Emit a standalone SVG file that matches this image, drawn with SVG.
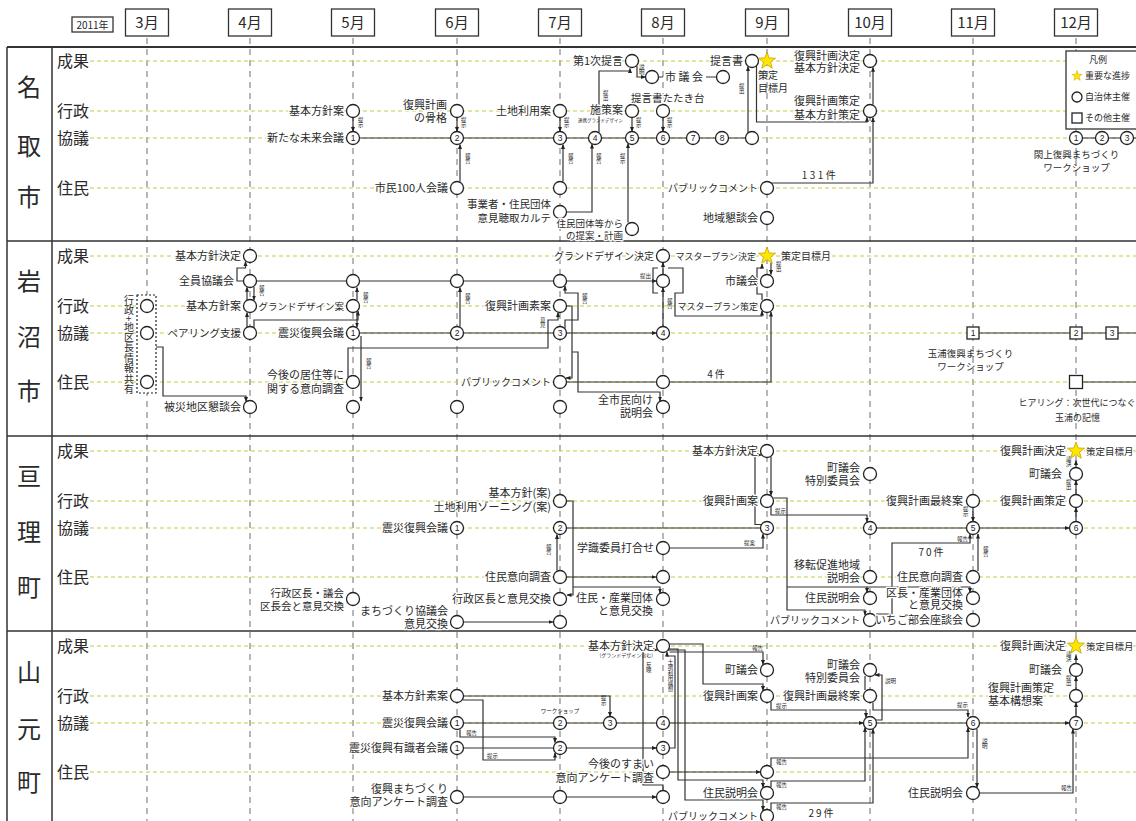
<svg xmlns="http://www.w3.org/2000/svg" width="1136" height="821" viewBox="0 0 1136 821">
<style>
text{font-family:"Noto Sans CJK JP","Noto Sans",sans-serif;fill:#2a2a2a}
.t{font-size:11px;stroke:#fff;stroke-width:2.5px;stroke-linejoin:round;paint-order:stroke}
.r{text-anchor:end}
.m{text-anchor:middle}
.f10{font-size:10px}
.f9{font-size:9px}
.pc{font-size:10px}
.f105{font-size:10.5px}
.f95{font-size:9.5px}
.f90{font-size:9px}
.s{font-size:5.5px;fill:#222}
.v{writing-mode:vertical-rl}
.n{font-size:8.5px;text-anchor:middle;font-family:"Liberation Sans",sans-serif;fill:#222}
.c{fill:#fff;stroke:#222;stroke-width:1.3}
.w{fill:none;stroke:#333;stroke-width:1.2}
.a{marker-end:url(#ah)}
.vd{stroke:#888;stroke-width:1.2;stroke-dasharray:6 5;fill:none}
.hd{stroke:#bfd040;stroke-width:1.2;stroke-dasharray:4 3;fill:none}
.fr{stroke:#333;fill:none}
.mb{fill:#fff;stroke:#333;stroke-width:1.3}
.mt{font-size:15px;text-anchor:middle}
.rl{font-size:16px}
.cn{font-size:24px;text-anchor:middle}
.st{fill:#ffe600;stroke:#c8a000;stroke-width:0.8}
</style>
<defs>
<marker id="ah" viewBox="0 0 10 10" refX="9" refY="5" markerWidth="5" markerHeight="5" markerUnits="userSpaceOnUse" orient="auto"><path d="M0,1L10,5L0,9z" fill="#222"/></marker>
<path id="star" d="M0,-9L2.18,-2.99L8.56,-2.78L3.52,1.14L5.29,7.28L0,3.7L-5.29,7.28L-3.52,1.14L-8.56,-2.78L-2.18,-2.99Z"/>
</defs>
<rect width="1136" height="821" fill="#fff"/>

<g id="header">
<rect class="mb" x="72" y="17" width="41" height="15"/><text x="92.5" y="28.5" class="m f10">2011年</text>
<rect class="mb" x="125.5" y="9" width="43" height="27"/><text class="mt" x="147" y="28">3月</text>
<rect class="mb" x="228.5" y="9" width="43" height="27"/><text class="mt" x="250" y="28">4月</text>
<rect class="mb" x="331.5" y="9" width="43" height="27"/><text class="mt" x="353" y="28">5月</text>
<rect class="mb" x="435.5" y="9" width="43" height="27"/><text class="mt" x="457" y="28">6月</text>
<rect class="mb" x="538.5" y="9" width="43" height="27"/><text class="mt" x="560" y="28">7月</text>
<rect class="mb" x="641.5" y="9" width="43" height="27"/><text class="mt" x="663" y="28">8月</text>
<rect class="mb" x="745.5" y="9" width="43" height="27"/><text class="mt" x="767" y="28">9月</text>
<rect class="mb" x="848.5" y="9" width="43" height="27"/><text class="mt" x="870" y="28">10月</text>
<rect class="mb" x="951.5" y="9" width="43" height="27"/><text class="mt" x="973" y="28">11月</text>
<rect class="mb" x="1054.5" y="9" width="43" height="27"/><text class="mt" x="1076" y="28">12月</text>
</g>

<g id="grid">
<path class="vd" d="M147,38V821M250,38V821M353,38V821M457,38V821M560,38V821M663,38V821M767,38V821M870,38V821M973,38V821M1076,38V821"/>
<path class="hd" d="M90,61H1136M90,111H1136M90,138H1136M90,188H1136M90,256H1136M90,306H1136M90,333H1136M90,382H1136M90,451H1136M90,501H1136M90,528H1136M90,577H1136M90,646H1136M90,696H1136M90,723H1136M90,772H1136"/>
<path class="fr" stroke-width="2" d="M7,47H1136"/>
<path class="fr" stroke-width="1.5" d="M7,241H1136M7,436H1136M7,631H1136M7,47V821M52,47V821"/>
</g>

<g id="labels">
<text class="cn" x="29" y="96">名</text><text class="cn" x="29" y="155">取</text><text class="cn" x="29" y="206">市</text>
<text class="cn" x="29" y="290">岩</text><text class="cn" x="29" y="346">沼</text><text class="cn" x="29" y="400">市</text>
<text class="cn" x="29" y="485">亘</text><text class="cn" x="29" y="541">理</text><text class="cn" x="29" y="596">町</text>
<text class="cn" x="29" y="681">山</text><text class="cn" x="29" y="738">元</text><text class="cn" x="29" y="791">町</text>
<text class="rl" x="57" y="67">成果</text><text class="rl" x="57" y="117">行政</text><text class="rl" x="57" y="144">協議</text><text class="rl" x="57" y="194">住民</text>
<text class="rl" x="57" y="262">成果</text><text class="rl" x="57" y="312">行政</text><text class="rl" x="57" y="339">協議</text><text class="rl" x="57" y="388">住民</text>
<text class="rl" x="57" y="457">成果</text><text class="rl" x="57" y="507">行政</text><text class="rl" x="57" y="534">協議</text><text class="rl" x="57" y="583">住民</text>
<text class="rl" x="57" y="652">成果</text><text class="rl" x="57" y="702">行政</text><text class="rl" x="57" y="729">協議</text><text class="rl" x="57" y="778">住民</text>
</g>

<g id="connectors">
<!-- 名取 -->
<path class="w a" d="M353,117.5V131.5"/><text class="s v" x="360.75" y="117">提示</text>
<path class="w" d="M359.5,138H745.5"/>
<path class="w a" d="M457,117.5V131.5"/><text class="s v" x="463.75" y="117">提示</text>
<path class="w a" d="M460,181.5V144.5"/><text class="s v" x="467.75" y="153">報告</text>
<path class="w a" d="M560,117.5V131.5"/><text class="s v" x="566.75" y="117">提示</text>
<path class="w a" d="M563,181.5V144.5"/><text class="s v" x="570.75" y="153">報告</text>
<path class="w a" d="M566.5,212H592V144"/><text class="s v" x="598.75" y="153">報告</text>
<path class="w a" d="M599,132.5V71H630V68.5"/><text class="s v" x="605.75" y="90">提出</text>
<path class="w a" d="M637,66V77H645.5"/><text class="s v" x="641.75" y="64">説明</text>
<path class="w" d="M658.5,77H663M706,77H716.5"/>
<path class="w a" d="M632,117.5V131.5"/><text class="s v" x="638.75" y="117">提示</text>
<path class="w a" d="M628,222.5V143.5"/><text class="s v" x="622.75" y="153">提示</text>
<path class="w a" d="M663,117.5V131.5"/><text class="s v" x="669.75" y="117">提示</text>
<path class="w a" d="M748,133V66.5"/><text class="s v" x="741.75" y="83">提出</text>
<path class="w a" d="M756.5,66V122H867V117.3"/>
<path class="w a" d="M771,183H873V117.5"/>
<path class="w a" d="M873,104.5V67.3"/>
<text class="f10 m" x="820" y="179" letter-spacing="2.5">131件</text>
<path class="w" d="M1082,138H1136"/>
<!-- 岩沼 -->
<path class="w a" d="M156,347H163V396H246V401.5"/>
<path class="w a" d="M243.5,281H237V268H245.5V261.5"/>
<path class="w a" d="M247,300V287.3"/>
<path class="w a" d="M254,287V300"/><text class="s v" x="261.75" y="285">報告</text>
<path class="w a" d="M247,327.5V312.5"/>
<path class="w a" d="M254,328V320H358V311"/>
<path class="w a" d="M256.5,281H656.5"/><text class="s" x="640" y="278">提出</text>
<path class="w a" d="M357,300V287.5"/><text class="s v" x="365.75" y="292">報告</text>
<path class="w a" d="M357,312V327"/>
<path class="w a" d="M361,336V401"/><text class="s v" x="368.75" y="358">報告</text>
<path class="w a" d="M348,377.5V348H548V320H558V312.5"/><text class="s v" x="542.75" y="317">意見</text>
<path class="w a" d="M359.5,333H656.5"/>
<path class="w a" d="M460,326.5V287.5"/><text class="s v" x="467.75" y="293">報告</text>
<path class="w a" d="M565,328.5V320H578V293H565V286"/><text class="s v" x="584.75" y="293">報告</text>
<path class="w a" d="M566.5,306H572V378H566"/>
<path class="w a" d="M572,352H578V392H660V401"/>
<path class="w a" d="M566.5,382H771V312"/><text class="f10 m" x="717" y="378" letter-spacing="2">4件</text>
<path class="w a" d="M663,326.5V287.5"/><text class="s v" x="669.75" y="298">報告</text>
<path class="w a" d="M663,274.5V262.5"/>
<path class="w" d="M658,268H653V293H658"/>
<path class="w a" d="M668,268H683V293H675V316H762V311"/>
<path class="w a" d="M762,300V294H757V268H762V264"/>
<path class="w a" d="M771,263V274.5"/><text class="s v" x="778.75" y="261">提出</text>
<path class="w" d="M979.5,333H1136"/>
<path class="w" d="M1082.5,382H1136"/>
<!-- 亘理 -->
<path class="w a" d="M463.5,622H553"/>
<path class="w a" d="M557,570.5V534.5"/><text class="s v" x="548.75" y="544">報告</text>
<path class="w a" d="M566.5,501H573V595H567"/>
<path class="w a" d="M573,587H660V593"/>
<path class="w" d="M566.5,528H760.5"/>
<path class="w a" d="M566.5,577H656"/>
<path class="w a" d="M669.5,548H763V534"/><text class="s" x="744" y="545">提案</text>
<path class="w a" d="M762,524.5H755V455H761.5"/>
<path class="w a" d="M771,456.5V495.5"/>
<path class="w a" d="M771,506V515H867V522"/><text class="s" x="775" y="513">提示</text>
<path class="w a" d="M773.5,498H787V610H865V615"/>
<path class="w a" d="M787,587H970V592.5"/>
<path class="w a" d="M867,587V592.5"/>
<path class="w a" d="M876.5,528H1069.5"/>
<path class="w a" d="M876,614H892V543H970V534"/><text class="s" x="957" y="541">報告</text>
<text class="f10 m" x="932" y="556" letter-spacing="2">70件</text>
<path class="w a" d="M973,507.5V521.5"/><text class="s v" x="965.75" y="506">提示</text>
<path class="w a" d="M978,571V534"/><text class="s v" x="985.75" y="546">報告</text>
<path class="w a" d="M1076,521.5V507.5"/>
<path class="w a" d="M1076,494.5V480.5"/><text class="s v" x="1068.75" y="479">提出</text>
<path class="w a" d="M1076,467.5V460.5"/><text class="s v" x="1068.75" y="456">議決</text>
<!-- 山元 -->
<path class="w a" d="M463.5,696H610V716.5"/><text class="s v" x="603.75" y="695">提示</text>
<path class="w a" d="M463,700H483V760H555V753"/><text class="s" x="487" y="758">提示</text>
<path class="w a" d="M460,729.5V737H555V742.5"/><text class="s" x="466" y="735">報告</text>
<path class="w a" d="M463.5,723H863.5"/>
<path class="w a" d="M876.5,723H1069.5"/>
<path class="w a" d="M463.5,748H656.5"/>
<path class="w a" d="M463.5,797H656.5"/>
<path class="w a" d="M663,790.5V785H643V650H657.5"/><text class="s v" x="648.75" y="662">反映</text>
<path class="w a" d="M669.5,748H675V656H667V652"/>
<text class="s v" x="670.5" y="659">土地利用構想</text>
<path class="w a" d="M669.5,652H763V664.5"/><text class="s" x="752" y="650">報告</text>
<path class="w a" d="M669,644H703V684H763V690.5"/>
<path class="w a" d="M668.5,649H678V780H763V787.5"/>
<path class="w a" d="M668,650H685V800H763V810.5"/>
<path class="w a" d="M669.5,772H760.5"/>
<path class="w a" d="M771,702V710H866V717.5"/><text class="s" x="776" y="708">提示</text>
<path class="w a" d="M771,766V758H968V727.5"/><text class="s" x="776" y="764">報告</text>
<path class="w a" d="M771,787V781H865V727.5"/><text class="s" x="776" y="787">報告</text>
<path class="w a" d="M771,810V803H873V729"/><text class="s" x="776" y="809">報告</text>
<text class="f10 m" x="822" y="817" letter-spacing="2">29件</text>
<path class="w" d="M865,676V690"/>
<path class="w a" d="M876,720H882V675H875"/><text class="s" x="885" y="683">説明</text>
<path class="w a" d="M873,702.5V710H968V717"/><text class="s" x="957" y="707">提示</text>
<path class="w a" d="M977,729V787.5"/><text class="s v" x="984.75" y="738">説明</text>
<path class="w a" d="M979.5,793H1073V729"/><text class="s" x="1061" y="790">報告</text>
<path class="w a" d="M1076,716.5V702.5"/>
<path class="w a" d="M1076,689.5V676.5"/><text class="s v" x="1068.75" y="675">提出</text>
<path class="w a" d="M1076,663.5V655.5"/><text class="s v" x="1068.75" y="651">議決</text>
</g>

<g id="natori-nodes">
<g id="na-kihonan"><circle class="c" cx="353" cy="111" r="6.5"/><text class="t r" x="344" y="115">基本方針案</text></g>
<g id="na-m1"><circle class="c" cx="353" cy="138" r="6.5"/><text class="n" x="353" y="141">1</text><text class="t r" x="344" y="142">新たな未来会議</text></g>
<g id="na-kokkaku"><circle class="c" cx="457" cy="111" r="6.5"/><text class="t r" x="447" y="109">復興計画<tspan x="447" dy="13">の骨格</tspan></text></g>
<g id="na-m2"><circle class="c" cx="457" cy="138" r="6.5"/><text class="n" x="457" y="141">2</text></g>
<g id="na-shimin100"><circle class="c" cx="457" cy="188" r="6.5"/><text class="t r" x="448" y="192">市民100人会議</text></g>
<g id="na-tochi"><circle class="c" cx="560" cy="111" r="6.5"/><text class="t r" x="551" y="115">土地利用案</text></g>
<g id="na-m3"><circle class="c" cx="560" cy="138" r="6.5"/><text class="n" x="560" y="141">3</text></g>
<g id="na-jumin7"><circle class="c" cx="560" cy="188" r="6.5"/></g>
<g id="na-karte"><circle class="c" cx="560" cy="212" r="6.5"/><text class="t r f105" x="551" y="208">事業者・住民団体<tspan x="551" dy="14">意見聴取カルテ</tspan></text></g>
<g id="na-m4"><circle class="c" cx="595" cy="138" r="6.5"/><text class="n" x="595" y="141">4</text></g>
<g id="na-teigen1"><circle class="c" cx="632" cy="61" r="6.5"/><text class="t r" x="623" y="65">第1次提言</text></g>
<g id="na-shigikai"><circle class="c" cx="652" cy="77" r="6.5"/><text class="t" x="665" y="81">市 議 会</text><circle class="c" cx="723" cy="77" r="6.5"/></g>
<g id="na-shisaku"><circle class="c" cx="632" cy="111" r="6.5"/><text class="t r" x="623" y="114">施策案</text><text class="r" x="623" y="122" font-size="4.5">連携グランドデザイン</text></g>
<g id="na-m5"><circle class="c" cx="632" cy="138" r="6.5"/><text class="n" x="632" y="141">5</text></g>
<g id="na-jumindantai"><circle class="c" cx="632" cy="229" r="6.5"/><text class="t r f95" x="623" y="227">住民団体等から<tspan x="623" dy="12">の提案・計画</tspan></text></g>
<g id="na-tatakidai"><circle class="c" cx="663" cy="111" r="6.5"/><text class="t f105" x="631" y="102">提言書たたき台</text></g>
<g id="na-m6"><circle class="c" cx="663" cy="138" r="6.5"/><text class="n" x="663" y="141">6</text></g>
<g id="na-m7"><circle class="c" cx="693" cy="138" r="6.5"/><text class="n" x="693" y="141">7</text></g>
<g id="na-m8"><circle class="c" cx="722" cy="138" r="6.5"/><text class="n" x="722" y="141">8</text></g>
<g id="na-m9"><circle class="c" cx="752" cy="138" r="6.5"/></g>
<g id="na-teigensho"><circle class="c" cx="752" cy="61" r="6.5"/><text class="t r" x="743" y="65">提言書</text></g>
<g id="na-star"><use href="#star" class="st" x="767" y="61"/><text class="f10" x="758" y="79">策定<tspan x="758" dy="13">目標月</tspan></text></g>
<g id="na-kettei"><circle class="c" cx="870" cy="61" r="6.5"/><text class="t r" x="860" y="60">復興計画決定<tspan x="860" dy="12">基本方針決定</tspan></text></g>
<g id="na-sakutei"><circle class="c" cx="870" cy="111" r="6.5"/><text class="t r" x="860" y="105">復興計画策定<tspan x="860" dy="14">基本方針策定</tspan></text></g>
<g id="na-pubcom"><circle class="c" cx="767" cy="188" r="6.5"/><text class="t pc r" x="758" y="192">パブリックコメント</text></g>
<g id="na-kondan"><circle class="c" cx="767" cy="218" r="6.5"/><text class="t r" x="758" y="222">地域懇談会</text></g>
<g id="na-ws"><circle class="c" cx="1076" cy="138" r="6.5"/><text class="n" x="1076" y="141">1</text><circle class="c" cx="1102" cy="138" r="6.5"/><text class="n" x="1102" y="141">2</text><circle class="c" cx="1127" cy="138" r="6.5"/><text class="n" x="1127" y="141">3</text><text class="m f95" x="1076.5" y="158">閖上復興まちづくり<tspan x="1076.5" dy="13">ワークショップ</tspan></text></g>
</g>

<g id="iwanuma-nodes">
<g id="iw-share"><rect x="137" y="295" width="19" height="98" fill="#fff" stroke="#222" stroke-width="1.2" stroke-dasharray="2 2"/><circle class="c" cx="147" cy="306" r="6.5"/><circle class="c" cx="147" cy="333" r="6.5"/><circle class="c" cx="147" cy="382" r="6.5"/>
<text class="f10 v" x="129" y="295" letter-spacing="0.4">行政+地区長情報共有</text></g>
<g id="iw-kihonkettei"><circle class="c" cx="250" cy="256" r="6.5"/><text class="t r" x="241" y="260">基本方針決定</text></g>
<g id="iw-zenin"><circle class="c" cx="250" cy="281" r="6.5"/><text class="t r" x="234" y="285">全員協議会</text></g>
<g id="iw-kihonan"><circle class="c" cx="250" cy="306" r="6.5"/><text class="t r" x="241" y="310">基本方針案</text></g>
<g id="iw-pairing"><circle class="c" cx="250" cy="333" r="6.5"/><text class="t r f105" x="241" y="337">ペアリング支援</text></g>
<g id="iw-hisai"><circle class="c" cx="250" cy="407" r="6.5"/><text class="t r" x="241" y="411">被災地区懇談会</text></g>
<g id="iw-z5"><circle class="c" cx="353" cy="281" r="6.5"/></g>
<g id="iw-gd"><circle class="c" cx="353" cy="306" r="6.5"/><text class="t r f95" x="344" y="309.5">グランドデザイン案</text></g>
<g id="iw-s1"><circle class="c" cx="353" cy="333" r="6.5"/><text class="n" x="353" y="336">1</text><text class="t r" x="344" y="337">震災復興会議</text></g>
<g id="iw-ikou"><circle class="c" cx="353" cy="382" r="6.5"/><text class="t r" x="344" y="379">今後の居住等に<tspan x="344" dy="14">関する意向調査</tspan></text></g>
<g id="iw-h5"><circle class="c" cx="353" cy="407" r="6.5"/></g>
<g id="iw-z6"><circle class="c" cx="457" cy="281" r="6.5"/></g>
<g id="iw-s2"><circle class="c" cx="457" cy="333" r="6.5"/><text class="n" x="457" y="336">2</text></g>
<g id="iw-h6"><circle class="c" cx="457" cy="407" r="6.5"/></g>
<g id="iw-z7"><circle class="c" cx="560" cy="281" r="6.5"/></g>
<g id="iw-soan"><circle class="c" cx="560" cy="306" r="6.5"/><text class="t r" x="551" y="310">復興計画素案</text></g>
<g id="iw-s3"><circle class="c" cx="560" cy="333" r="6.5"/><text class="n" x="560" y="336">3</text></g>
<g id="iw-pub"><circle class="c" cx="560" cy="382" r="6.5"/><text class="t pc r" x="551" y="386">パブリックコメント</text></g>
<g id="iw-h7"><circle class="c" cx="560" cy="407" r="6.5"/></g>
<g id="iw-gdkettei"><circle class="c" cx="663" cy="256" r="6.5"/><text class="t r pc" x="654" y="259.5">グランドデザイン決定</text></g>
<g id="iw-z8"><circle class="c" cx="663" cy="281" r="6.5"/></g>
<g id="iw-s4"><circle class="c" cx="663" cy="333" r="6.5"/><text class="n" x="663" y="336">4</text></g>
<g id="iw-p8"><circle class="c" cx="663" cy="382" r="6.5"/></g>
<g id="iw-zenshimin"><circle class="c" cx="663" cy="407" r="6.5"/><text class="t r" x="653" y="404">全市民向け<tspan x="653" dy="13">説明会</tspan></text></g>
<g id="iw-star"><use href="#star" class="st" x="767" y="256"/><text class="t r f90" x="756" y="259.5">マスタープラン決定</text><text class="t pc" x="781" y="259.5">策定目標月</text></g>
<g id="iw-shigikai"><circle class="c" cx="767" cy="281" r="6.5"/><text class="t r" x="758" y="285">市議会</text></g>
<g id="iw-mp"><circle class="c" cx="767" cy="306" r="6.5"/><text class="t r f90" x="758" y="309.5">マスタープラン策定</text></g>
<g id="iw-tamaura"><rect class="c" x="967" y="327" width="12" height="12"/><text class="n" x="973" y="336">1</text><rect class="c" x="1070" y="327" width="12" height="12"/><text class="n" x="1076" y="336">2</text><rect class="c" x="1106" y="327" width="12" height="12"/><text class="n" x="1112" y="336">3</text><text class="m f95" x="970.5" y="357">玉浦復興まちづくり<tspan x="970.5" dy="13">ワークショップ</tspan></text></g>
<g id="iw-hearing"><rect class="c" x="1069.5" y="375.5" width="13" height="13"/><text class="m f9" x="1077" y="406">ヒアリング：次世代につなぐ<tspan x="1077.5" dy="15">玉浦の記憶</tspan></text></g>
</g>

<g id="watari-nodes">
<g id="wa-gyosei"><circle class="c" cx="353" cy="599" r="6.5"/><text class="t r f105" x="344" y="597">行政区長・議会<tspan x="344" dy="13">区長会と意見交換</tspan></text></g>
<g id="wa-s1"><circle class="c" cx="457" cy="528" r="6.5"/><text class="n" x="457" y="531">1</text><text class="t r" x="448" y="532">震災復興会議</text></g>
<g id="wa-machi"><circle class="c" cx="457" cy="622" r="6.5"/><text class="t r" x="448" y="615">まちづくり協議会<tspan x="448" dy="13">意見交換</tspan></text></g>
<g id="wa-kihon7"><circle class="c" cx="560" cy="501" r="6.5"/><text class="t r" x="551" y="497">基本方針(案)<tspan x="551" dy="14">土地利用ゾーニング(案)</tspan></text></g>
<g id="wa-s2"><circle class="c" cx="560" cy="528" r="6.5"/><text class="n" x="560" y="531">2</text></g>
<g id="wa-ikou7"><circle class="c" cx="560" cy="577" r="6.5"/><text class="t r" x="551" y="581">住民意向調査</text></g>
<g id="wa-kucho7"><circle class="c" cx="560" cy="599" r="6.5"/><text class="t r" x="551" y="603">行政区長と意見交換</text></g>
<g id="wa-m7"><circle class="c" cx="560" cy="622" r="6.5"/></g>
<g id="wa-gakushiki"><circle class="c" cx="663" cy="548" r="6.5"/><text class="t r" x="654" y="552">学識委員打合せ</text></g>
<g id="wa-j8"><circle class="c" cx="663" cy="577" r="6.5"/></g>
<g id="wa-sangyo8"><circle class="c" cx="663" cy="599" r="6.5"/><text class="t r" x="653" y="602">住民・産業団体<tspan x="653" dy="13">と意見交換</tspan></text></g>
<g id="wa-kihonkettei"><circle class="c" cx="767" cy="451" r="6.5"/><text class="t r" x="758" y="455">基本方針決定</text></g>
<g id="wa-fukkoan"><circle class="c" cx="767" cy="501" r="6.5"/><text class="t r" x="758" y="505">復興計画案</text></g>
<g id="wa-s3"><circle class="c" cx="767" cy="528" r="6.5"/><text class="n" x="767" y="531">3</text></g>
<g id="wa-tokubetsu"><circle class="c" cx="870" cy="474" r="6.5"/><text class="t r" x="860" y="472">町議会<tspan x="860" dy="13">特別委員会</tspan></text></g>
<g id="wa-s4"><circle class="c" cx="870" cy="528" r="6.5"/><text class="n" x="870" y="531">4</text></g>
<g id="wa-iten"><circle class="c" cx="870" cy="577" r="6.5"/><text class="t r" x="860" y="569">移転促進地域<tspan x="860" dy="13">説明会</tspan></text></g>
<g id="wa-setsumei"><circle class="c" cx="870" cy="598" r="6.5"/><text class="t r" x="860" y="602">住民説明会</text></g>
<g id="wa-pub"><circle class="c" cx="870" cy="620" r="6.5"/><text class="t pc r" x="860" y="624">パブリックコメント</text></g>
<g id="wa-saishu"><circle class="c" cx="973" cy="501" r="6.5"/><text class="t r" x="963" y="505">復興計画最終案</text></g>
<g id="wa-s5"><circle class="c" cx="973" cy="528" r="6.5"/><text class="n" x="973" y="531">5</text></g>
<g id="wa-ikou11"><circle class="c" cx="973" cy="577" r="6.5"/><text class="t r" x="963" y="581">住民意向調査</text></g>
<g id="wa-kucho11"><circle class="c" cx="973" cy="598" r="6.5"/><text class="t r" x="963" y="597">区長・産業団体<tspan x="963" dy="12">と意見交換</tspan></text></g>
<g id="wa-ichigo"><circle class="c" cx="973" cy="620" r="6.5"/><text class="t r" x="963" y="624">いちご部会座談会</text></g>
<g id="wa-star"><use href="#star" class="st" x="1076" y="451"/><text class="t r" x="1066" y="455">復興計画決定</text><text class="t f95" x="1086" y="454.5">策定目標月</text></g>
<g id="wa-chogikai"><circle class="c" cx="1076" cy="474" r="6.5"/><text class="t r" x="1062" y="478">町議会</text></g>
<g id="wa-sakutei"><circle class="c" cx="1076" cy="501" r="6.5"/><text class="t r" x="1066" y="505">復興計画策定</text></g>
<g id="wa-s6"><circle class="c" cx="1076" cy="528" r="6.5"/><text class="n" x="1076" y="531">6</text></g>
</g>

<g id="yamamoto-nodes">
<g id="ya-soan"><circle class="c" cx="457" cy="696" r="6.5"/><text class="t r" x="448" y="700">基本方針素案</text></g>
<g id="ya-s1"><circle class="c" cx="457" cy="723" r="6.5"/><text class="n" x="457" y="726">1</text><text class="t r" x="448" y="727">震災復興会議</text></g>
<g id="ya-y1"><circle class="c" cx="457" cy="748" r="6.5"/><text class="n" x="457" y="751">1</text><text class="t r" x="448" y="752">震災復興有識者会議</text></g>
<g id="ya-anke6"><circle class="c" cx="457" cy="797" r="6.5"/><text class="t r" x="448" y="793">復興まちづくり<tspan x="448" dy="13">意向アンケート調査</tspan></text></g>
<g id="ya-s2"><circle class="c" cx="560" cy="723" r="6.5"/><text class="n" x="560" y="726">2</text><text class="s m" x="560" y="713">ワークショップ</text></g>
<g id="ya-y2"><circle class="c" cx="560" cy="748" r="6.5"/><text class="n" x="560" y="751">2</text></g>
<g id="ya-a7"><circle class="c" cx="560" cy="797" r="6.5"/></g>
<g id="ya-s3"><circle class="c" cx="610" cy="723" r="6.5"/><text class="n" x="610" y="726">3</text></g>
<g id="ya-kihonkettei"><circle class="c" cx="663" cy="646" r="6.5"/><text class="t r" x="654" y="650">基本方針決定</text><text class="r" font-size="5" x="653" y="657">(グランドデザイン含む)</text></g>
<g id="ya-s4"><circle class="c" cx="663" cy="723" r="6.5"/><text class="n" x="663" y="726">4</text></g>
<g id="ya-y3"><circle class="c" cx="663" cy="748" r="6.5"/><text class="n" x="663" y="751">3</text></g>
<g id="ya-sumai"><circle class="c" cx="663" cy="772" r="6.5"/><text class="t r" x="654" y="768">今後のすまい<tspan x="654" dy="14">意向アンケート調査</tspan></text></g>
<g id="ya-a8"><circle class="c" cx="663" cy="797" r="6.5"/></g>
<g id="ya-chogikai9"><circle class="c" cx="767" cy="670" r="6.5"/><text class="t r" x="758" y="674">町議会</text></g>
<g id="ya-fukkoan"><circle class="c" cx="767" cy="696" r="6.5"/><text class="t r" x="758" y="700">復興計画案</text></g>
<g id="ya-j9"><circle class="c" cx="767" cy="772" r="6.5"/></g>
<g id="ya-setsumei9"><circle class="c" cx="767" cy="793" r="6.5"/><text class="t r" x="758" y="797">住民説明会</text></g>
<g id="ya-pub"><circle class="c" cx="767" cy="816" r="6.5"/><text class="t pc r" x="758" y="820">パブリックコメント</text></g>
<g id="ya-tokubetsu"><circle class="c" cx="870" cy="670" r="6.5"/><text class="t r" x="860" y="669">町議会<tspan x="860" dy="13">特別委員会</tspan></text></g>
<g id="ya-saishu"><circle class="c" cx="870" cy="696" r="6.5"/><text class="t r" x="860" y="700">復興計画最終案</text></g>
<g id="ya-s5"><circle class="c" cx="870" cy="723" r="6.5"/><text class="n" x="870" y="726">5</text></g>
<g id="ya-s6"><circle class="c" cx="973" cy="723" r="6.5"/><text class="n" x="973" y="726">6</text></g>
<g id="ya-setsumei11"><circle class="c" cx="973" cy="793" r="6.5"/><text class="t r" x="963" y="797">住民説明会</text></g>
<g id="ya-star"><use href="#star" class="st" x="1076" y="646"/><text class="t r" x="1066" y="650">復興計画決定</text><text class="t f95" x="1086" y="649.5">策定目標月</text></g>
<g id="ya-chogikai12"><circle class="c" cx="1076" cy="670" r="6.5"/><text class="t r" x="1062" y="674">町議会</text></g>
<g id="ya-kousou"><circle class="c" cx="1076" cy="696" r="6.5"/><text class="t" x="988" y="692">復興計画策定<tspan x="988" dy="13">基本構想案</tspan></text></g>
<g id="ya-s7"><circle class="c" cx="1076" cy="723" r="6.5"/><text class="n" x="1076" y="726">7</text></g>
</g>

<g id="legend">
<rect x="1066" y="51" width="80" height="78" fill="#fff" stroke="#333" stroke-width="1.3"/>
<text class="m f9" x="1098" y="63">凡例</text>
<use href="#star" class="st" transform="translate(1077,76) scale(0.6)"/><text class="f9" x="1085" y="79">重要な進捗</text>
<circle class="c" cx="1077" cy="97" r="5"/><text class="f9" x="1085" y="100">自治体主催</text>
<rect class="c" x="1072" y="113" width="10" height="10"/><text class="f9" x="1085" y="121">その他主催</text>
</g>
</svg>
